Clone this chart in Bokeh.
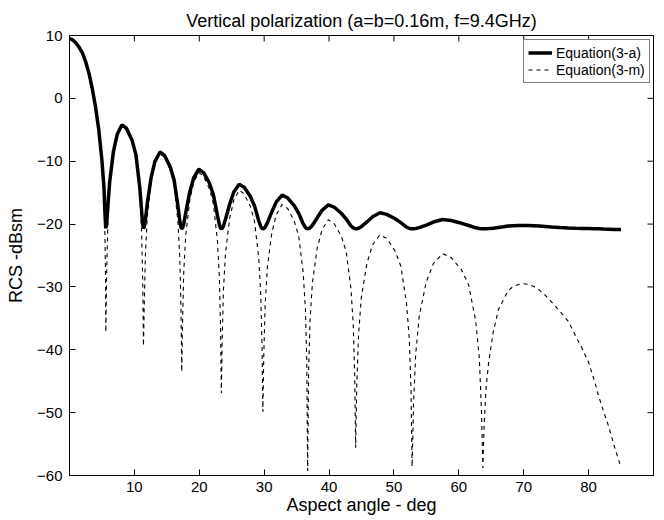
import math
from bokeh.plotting import figure
from bokeh.models import ColumnDataSource, Range1d, FixedTicker, Legend, LegendItem
from bokeh.embed import file_html
from bokeh.resources import INLINE

# ---- data ----
angle_deg = [
    0, 0.5, 1.0, 1.5, 2.0, 2.5, 3.0, 3.5, 4.0, 4.5, 5.0, 5.3, 5.45, 5.55, 5.6,
    5.72, 5.89, 6.18, 6.76, 7.34, 8.09, 8.79, 9.66, 10.24, 10.82, 11.11, 11.28, 11.4,
    11.52, 11.70, 11.99, 12.58, 13.17, 13.94, 14.65, 15.53, 16.12, 16.71, 17.0, 17.18, 17.3,
    17.42, 17.6, 17.91, 18.52, 19.13, 19.92, 20.66, 21.57, 22.18, 22.79, 23.1, 23.28, 23.4,
    23.53, 23.72, 24.04, 24.68, 25.32, 26.15, 26.92, 27.88, 28.52, 29.16, 29.48, 29.67, 29.8,
    29.94, 30.15, 30.49, 31.18, 31.87, 32.77, 33.6, 34.63, 35.32, 36.01, 36.36, 36.56, 36.7,
    36.85, 37.07, 37.44, 38.18, 38.92, 39.88, 40.77, 41.88, 42.62, 43.36, 43.73, 43.95, 44.1,
    44.27, 44.54, 44.97, 45.84, 46.71, 47.84, 48.89, 50.19, 51.06, 51.93, 52.37, 52.63, 52.8,
    53.02, 53.35, 53.89, 54.98, 56.07, 57.49, 58.8, 60.43, 61.52, 62.61, 63.16, 63.48, 63.7,
    63.9, 64.2, 64.6, 65.3, 66.1, 66.9, 67.6, 68.4, 69.2, 70.0, 70.7, 71.5, 72.4, 73.3,
    74.3, 75.5, 76.9, 78.0, 79.0, 80.0, 81.0, 81.5, 82.3, 83.1, 84.0, 85.0,
]

rcs_eq_3a = [
    9.5, 9.3, 8.8, 8.1, 7.2, 5.8, 4.0, 1.6, -1.3, -4.9, -9.9, -14.0, -17.85, -20.0, -20.67,
    -20.03, -17.51, -13.41, -8.53, -5.76, -4.20, -4.79, -6.72, -9.0, -14.06, -17.86, -20.14, -20.69,
    -20.48, -19.30, -16.66, -12.58, -10.02, -8.53, -9.09, -10.92, -13.0, -17.13, -19.49, -20.53, -20.73,
    -20.62, -19.97, -18.23, -14.97, -12.67, -11.28, -11.81, -13.50, -15.33, -18.57, -20.08, -20.64, -20.74,
    -20.67, -20.32, -19.25, -16.84, -14.89, -13.66, -14.13, -15.61, -17.13, -19.47, -20.38, -20.68, -20.75,
    -20.71, -20.49, -19.81, -18.05, -16.47, -15.4, -15.82, -17.07, -18.28, -19.95, -20.54, -20.71, -20.75,
    -20.72, -20.6, -20.18, -19.0, -17.81, -16.95, -17.29, -18.28, -19.16, -20.27, -20.62, -20.72, -20.75,
    -20.74, -20.67, -20.41, -19.66, -18.83, -18.19, -18.45, -19.16, -19.77, -20.47, -20.68, -20.74, -20.75,
    -20.75, -20.71, -20.57, -20.17, -19.68, -19.28, -19.44, -19.88, -20.23, -20.6, -20.71, -20.75, -20.75,
    -20.75, -20.74, -20.72, -20.65, -20.53, -20.44, -20.32, -20.25, -20.22, -20.21, -20.22, -20.25, -20.31, -20.38,
    -20.46, -20.54, -20.61, -20.66, -20.70, -20.72, -20.74, -20.76, -20.8, -20.82, -20.85, -20.85,
]

rcs_eq_3m = [
    9.5, 9.3, 8.8, 8.1, 7.2, 5.8, 4.0, 1.6, -1.3, -4.9, -10.0, -15.0, -21.0, -28.0, -37.2,
    -28.3, -20.3, -14.3, -8.8, -5.9, -4.3, -4.9, -6.9, -9.3, -15.1, -21.0, -29.0, -39.4,
    -32.8, -24.8, -18.8, -13.3, -10.4, -8.8, -9.4, -11.4, -13.8, -19.6, -25.5, -33.5, -43.5,
    -35.8, -27.8, -21.8, -16.3, -13.4, -11.8, -12.4, -14.4, -16.8, -22.6, -28.5, -36.5, -46.9,
    -38.6, -30.6, -24.6, -19.1, -16.2, -14.6, -15.2, -17.2, -19.6, -25.4, -31.3, -39.3, -49.9,
    -40.9, -32.9, -26.9, -21.4, -18.5, -16.9, -17.5, -19.5, -21.9, -27.7, -33.6, -41.6, -59.3,
    -43.3, -35.3, -29.3, -23.8, -20.9, -19.3, -19.9, -21.9, -24.3, -30.1, -36.0, -44.0, -55.6,
    -45.7, -37.7, -31.7, -26.2, -23.3, -21.7, -22.3, -24.3, -26.7, -32.5, -38.4, -46.4, -58.6,
    -48.7, -40.7, -34.7, -29.2, -26.3, -24.7, -25.3, -27.3, -29.7, -35.5, -41.4, -49.4, -58.8,
    -52.0, -46.0, -42.0, -37.2, -33.6, -32.0, -30.6, -29.9, -29.6, -29.5, -29.6, -29.9, -30.5, -31.3,
    -32.4, -33.8, -35.5, -37.8, -39.8, -42.0, -45.3, -47.2, -49.8, -52.2, -55.5, -58.7,
]

x_limits = [0, 90]
y_limits = [-60, 10]
x_ticks = [10, 20, 30, 40, 50, 60, 70, 80]
y_ticks = [-60, -50, -40, -30, -20, -10, 0, 10]
title_text = "Vertical polarization (a=b=0.16m, f=9.4GHz)"
x_label = "Aspect angle - deg"
y_label = "RCS -dBsm"
legend_labels = ["Equation(3-a)", "Equation(3-m)"]

FONT = "Liberation Sans"

src = ColumnDataSource(dict(x=angle_deg, a=rcs_eq_3a, m=rcs_eq_3m))

p = figure(
    output_backend="svg", toolbar_location=None,
    frame_width=584, frame_height=440,
    min_border_left=69, min_border_right=8, min_border_top=35, min_border_bottom=44,
    x_range=Range1d(*x_limits), y_range=Range1d(*y_limits),
    background_fill_color="white", border_fill_color="white",
)
p.outline_line_color = "black"
p.outline_line_width = 1
p.grid.visible = False

p.title.text = title_text
p.title.align = "center"
p.title.text_font = FONT
p.title.text_font_size = "18px"
p.title.text_font_style = "normal"
p.title.text_color = "black"
p.title.standoff = 9

for ax in p.xaxis:
    ax.ticker = FixedTicker(ticks=x_ticks)
    ax.axis_label = x_label
    ax.axis_label_standoff = 0
    ax.major_label_standoff = 6
for ax in p.yaxis:
    ax.ticker = FixedTicker(ticks=y_ticks)
    ax.axis_label = y_label
    ax.axis_label_standoff = 8
    ax.major_label_standoff = 7

for ax in list(p.xaxis) + list(p.yaxis):
    ax.major_tick_in = 6
    ax.major_tick_out = 0
    ax.minor_tick_line_color = None
    ax.axis_line_color = "black"
    ax.major_tick_line_color = "black"
    ax.major_label_text_font = FONT
    ax.major_label_text_font_size = "15px"
    ax.major_label_text_color = "black"
    ax.axis_label_text_font = FONT
    ax.axis_label_text_font_size = "18px"
    ax.axis_label_text_font_style = "normal"
    ax.axis_label_text_color = "black"

# inward ticks on the top and right edges of the box (MATLAB style)
p.ray(x=x_ticks, y=y_limits[1], length=6, length_units="screen", angle=-math.pi / 2,
      line_color="black", line_width=1)
p.ray(x=x_limits[1], y=y_ticks, length=6, length_units="screen", angle=math.pi,
      line_color="black", line_width=1)

r_a = p.line("x", "a", source=src, line_color="black", line_width=3.5)
r_m = p.line("x", "m", source=src, line_color="black", line_width=1.1, line_dash="4 4")

legend = Legend(
    items=[LegendItem(label=legend_labels[0], renderers=[r_a]),
           LegendItem(label=legend_labels[1], renderers=[r_m])],
    location=(454, 392),
    label_text_font=FONT, label_text_font_size="14px", label_text_color="black",
    border_line_color="black", border_line_width=1,
    background_fill_color="white", background_fill_alpha=1,
    padding=4, spacing=0, margin=0,
    label_height=17, glyph_height=17, glyph_width=24, label_standoff=4,
)
p.add_layout(legend, "center")

open("out.html", "w").write(file_html(p, INLINE))
